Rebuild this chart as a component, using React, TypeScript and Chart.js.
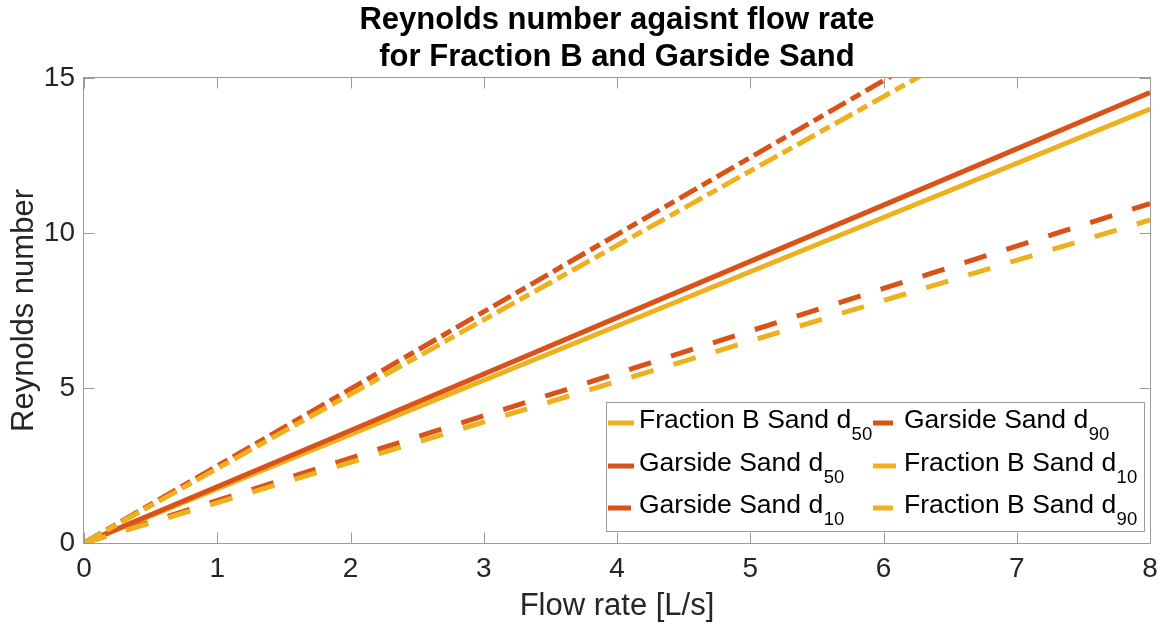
import React, { useEffect, useRef } from "react";
import { Chart, registerables } from "chart.js";

Chart.register(...registerables);

// Flow rate [L/s] at which each Reynolds number is sampled
const flowRate = [0, 2, 4, 6, 8];

// Reynolds number for each sand fraction / grain size
const fractionBd50 = [0, 3.5, 7.0, 10.5, 14.0];
const garsideD50 = [0, 3.63, 7.27, 10.9, 14.53];
const garsideD10 = [0, 2.74, 5.47, 8.21, 10.95];
const garsideD90 = [0, 4.97, 9.95, 14.92, 19.9];
const fractionBd10 = [0, 2.6, 5.21, 7.82, 10.42];
const fractionBd90 = [0, 4.8, 9.6, 14.4, 19.2];

const xTicks = [0, 1, 2, 3, 4, 5, 6, 7, 8];
const yTicks = [0, 5, 10, 15];

const titleLines = ["Reynolds number agaisnt flow rate", "for Fraction B and Garside Sand"];
const xTitle = "Flow rate [L/s]";
const yTitle = "Reynolds number";

const ORANGE = "#D95319";
const YELLOW = "#EDB120";
const SOLID: number[] = [];
const DASHED = [23, 21];
const DASHDOT = [20, 6, 11, 6];

const FONT = '"Liberation Sans", Arial, Helvetica, sans-serif';
const AXIS_GREY = "#9b9b9b";
const TEXT_DARK = "#262626";

type Series = { name: string; sub: string; values: number[]; color: string; dash: number[] };

// Legend order is column-major: left column first, then right column
const series: Series[] = [
  { name: "Fraction B Sand d", sub: "50", values: fractionBd50, color: YELLOW, dash: SOLID },
  { name: "Garside Sand d", sub: "50", values: garsideD50, color: ORANGE, dash: SOLID },
  { name: "Garside Sand d", sub: "10", values: garsideD10, color: ORANGE, dash: DASHED },
  { name: "Garside Sand d", sub: "90", values: garsideD90, color: ORANGE, dash: DASHDOT },
  { name: "Fraction B Sand d", sub: "10", values: fractionBd10, color: YELLOW, dash: DASHED },
  { name: "Fraction B Sand d", sub: "90", values: fractionBd90, color: YELLOW, dash: DASHDOT },
];

const framePlugin = {
  id: "matlabFrame",
  afterDraw(chart: any) {
    const { ctx, chartArea } = chart;
    const { left, right, top, bottom } = chartArea;
    const xs = chart.scales.x;
    const ys = chart.scales.y;
    const midX = (left + right) / 2;

    ctx.save();

    // axes box
    ctx.strokeStyle = AXIS_GREY;
    ctx.lineWidth = 1;
    ctx.setLineDash([]);
    ctx.strokeRect(Math.round(left) - 0.5, Math.round(top) - 0.5, Math.round(right - left) + 1, Math.round(bottom - top) + 1);

    // inward tick marks on all four sides
    const tl = 10.5;
    ctx.beginPath();
    xTicks.forEach((v) => {
      const px = Math.round(xs.getPixelForValue(v)) + 0.5;
      ctx.moveTo(px, bottom);
      ctx.lineTo(px, bottom - tl);
      ctx.moveTo(px, top);
      ctx.lineTo(px, top + tl);
    });
    yTicks.forEach((v) => {
      const py = Math.round(ys.getPixelForValue(v)) + 0.5;
      ctx.moveTo(left, py);
      ctx.lineTo(left + tl, py);
      ctx.moveTo(right, py);
      ctx.lineTo(right - tl, py);
    });
    ctx.stroke();

    // title
    ctx.fillStyle = "#000";
    ctx.textAlign = "center";
    ctx.textBaseline = "alphabetic";
    ctx.font = `bold 31px ${FONT}`;
    ctx.fillText(titleLines[0], midX, 29);
    ctx.fillText(titleLines[1], midX, 66);

    // axis titles
    ctx.fillStyle = TEXT_DARK;
    ctx.font = `31px ${FONT}`;
    ctx.fillText(xTitle, midX, 615);
    ctx.save();
    ctx.translate(33, (top + bottom) / 2);
    ctx.rotate(-Math.PI / 2);
    ctx.fillText(yTitle, 0, 0);
    ctx.restore();

    // legend
    const boxW = 538;
    const boxH = 129;
    const bx = right - 6 - boxW;
    const by = bottom - 12 - boxH;
    ctx.fillStyle = "#fff";
    ctx.fillRect(bx, by, boxW, boxH);
    ctx.strokeStyle = AXIS_GREY;
    ctx.strokeRect(Math.round(bx) + 0.5, Math.round(by) + 0.5, boxW, boxH);

    const rowOffsets = [21, 64, 106];
    const colSample = [2, 267];
    const colText = [33, 298];
    series.forEach((s, i) => {
      const col = Math.floor(i / 3);
      const row = i % 3;
      const y = by + rowOffsets[row];
      const sx = bx + colSample[col];
      ctx.strokeStyle = s.color;
      ctx.lineWidth = 5;
      ctx.lineCap = "butt";
      ctx.setLineDash(s.dash);
      ctx.beginPath();
      ctx.moveTo(sx, y);
      ctx.lineTo(sx + 26, y);
      ctx.stroke();
      ctx.setLineDash([]);

      const tx = bx + colText[col];
      ctx.fillStyle = "#000";
      ctx.textAlign = "left";
      ctx.textBaseline = "alphabetic";
      ctx.font = `26.5px ${FONT}`;
      ctx.fillText(s.name, tx, y + 5.3);
      const w = ctx.measureText(s.name).width;
      ctx.font = `18.5px ${FONT}`;
      ctx.fillText(s.sub, tx + w + 0.5, y + 17);
    });

    ctx.restore();
  },
};

export default function App() {
  const canvasRef = useRef<HTMLCanvasElement | null>(null);

  useEffect(() => {
    const canvas = canvasRef.current;
    if (!canvas) return;

    const datasets = series.map((s, i) => ({
      label: s.name + s.sub,
      data: flowRate.map((x, k) => ({ x, y: s.values[k] })),
      borderColor: s.color,
      backgroundColor: s.color,
      borderWidth: 5,
      borderDash: s.dash,
      borderCapStyle: "butt" as const,
      borderJoinStyle: "round" as const,
      pointRadius: 0,
      pointHoverRadius: 0,
      tension: 0,
      fill: false,
      clip: 0,
      order: series.length - i,
    }));

    const chart = new Chart(canvas, {
      type: "line",
      data: { datasets },
      options: {
        responsive: false,
        animation: false,
        devicePixelRatio: 1,
        layout: { padding: { top: 78, right: 13, left: 0, bottom: 0 } },
        plugins: {
          legend: { display: false },
          title: { display: false },
          tooltip: { enabled: false },
        },
        events: [],
        scales: {
          x: {
            type: "linear",
            min: 0,
            max: 8,
            grid: { display: false, drawTicks: false },
            border: { display: false },
            afterBuildTicks: (scale: any) => {
              scale.ticks = xTicks.map((v) => ({ value: v }));
            },
            afterFit: (scale: any) => {
              scale.height = 82;
              scale.paddingLeft = 0;
              scale.paddingRight = 0;
            },
            ticks: {
              padding: 9,
              maxRotation: 0,
              autoSkip: false,
              color: TEXT_DARK,
              font: { family: FONT, size: 28 },
            },
          },
          y: {
            type: "linear",
            min: 0,
            max: 15,
            grid: { display: false, drawTicks: false },
            border: { display: false },
            afterBuildTicks: (scale: any) => {
              scale.ticks = yTicks.map((v) => ({ value: v }));
            },
            afterFit: (scale: any) => {
              scale.width = 84;
              scale.paddingTop = 0;
              scale.paddingBottom = 0;
            },
            ticks: {
              padding: 9,
              autoSkip: false,
              color: TEXT_DARK,
              font: { family: FONT, size: 28 },
            },
          },
        },
      },
      plugins: [framePlugin],
    });

    return () => chart.destroy();
  }, []);

  return (
    <div style={{ position: "absolute", left: 0, top: 0, width: 1163, height: 625, background: "#fff" }}>
      <canvas ref={canvasRef} width={1163} height={625} style={{ display: "block" }} />
    </div>
  );
}
